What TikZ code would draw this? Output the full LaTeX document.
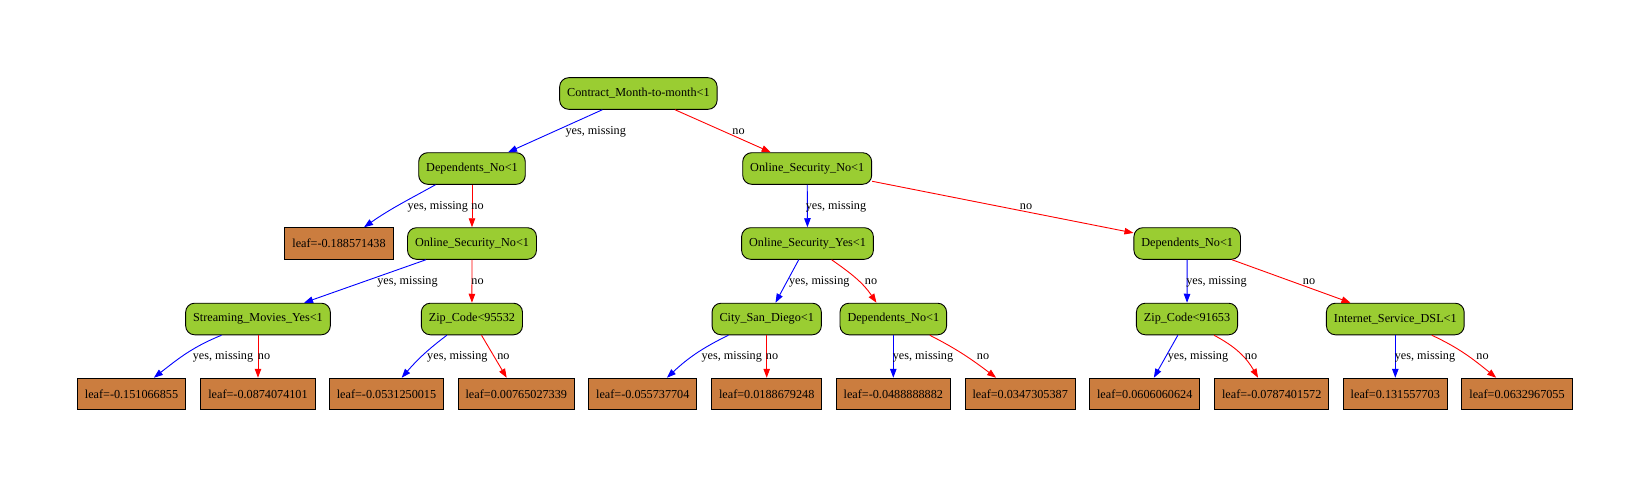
\documentclass[tikz,border=0pt]{standalone}
\usepackage{fontspec}
\setmainfont{Liberation Serif}
\usetikzlibrary{arrows.meta}
\definecolor{cgreen}{HTML}{9ACD32}
\definecolor{cleaf}{HTML}{CB7D3F}
\begin{document}
\begin{tikzpicture}[x=1pt,y=-1pt,
  font=\fontsize{12.2}{14}\selectfont,
  cond/.style={draw=black, line width=0.9pt, fill=cgreen, rounded corners=9pt,
    minimum height=31.6pt, inner xsep=7.5pt, inner ysep=0pt},
  leafbox/.style={draw=black, line width=0.9pt, fill=cleaf,
    minimum height=31.6pt, inner xsep=7.5pt, inner ysep=0pt},
  yesedge/.style={draw=blue, line width=0.9pt, -{Triangle[length=9pt,width=6.5pt]}},
  noedge/.style={draw=red, line width=0.9pt, -{Triangle[length=9pt,width=6.5pt]}},
  lbl/.style={anchor=base, inner sep=0pt}]
\useasboundingbox (0,0) rectangle (1650,487);
\fill[white] (0,0) rectangle (1650,487);
% condition nodes
\node[cond] (root) at (638.4,93.5) {Contract\_Month-to-month<1};
\node[cond] (depL) at (472,168.5) {Dependents\_No<1};
\node[cond] (osnR) at (807.2,168.5) {Online\_Security\_No<1};
\node[leafbox] (leafA) at (339,243.5) {leaf=-0.188571438};
\node[cond] (osnL) at (472,243.5) {Online\_Security\_No<1};
\node[cond] (osy) at (807.5,243.5) {Online\_Security\_Yes<1};
\node[cond] (depR) at (1187.2,243.5) {Dependents\_No<1};
\node[cond] (smy) at (258,319) {Streaming\_Movies\_Yes<1};
\node[cond] (zipA) at (471.9,319) {Zip\_Code<95532};
\node[cond] (city) at (766.7,319) {City\_San\_Diego<1};
\node[cond] (depM) at (893.3,319) {Dependents\_No<1};
\node[cond] (zipB) at (1187,319) {Zip\_Code<91653};
\node[cond] (isd) at (1395.3,319) {Internet\_Service\_DSL<1};
% leaves
\node[leafbox] (l1) at (131.5,394) {leaf=-0.151066855};
\node[leafbox] (l2) at (258,394) {leaf=-0.0874074101};
\node[leafbox] (l3) at (386.5,394) {leaf=-0.0531250015};
\node[leafbox] (l4) at (516.3,394) {leaf=0.00765027339};
\node[leafbox] (l5) at (642.8,394) {leaf=-0.055737704};
\node[leafbox] (l6) at (766.7,394) {leaf=0.0188679248};
\node[leafbox] (l7) at (893.3,394) {leaf=-0.0488888882};
\node[leafbox] (l8) at (1020.2,394) {leaf=0.0347305387};
\node[leafbox] (l9) at (1144.7,394) {leaf=0.0606060624};
\node[leafbox] (l10) at (1271.7,394) {leaf=-0.0787401572};
\node[leafbox] (l11) at (1395.3,394) {leaf=0.131557703};
\node[leafbox] (l12) at (1517,394) {leaf=0.0632967055};
% edges
\draw[yesedge] (root) -- (depL);
\draw[noedge] (root) -- (osnR);
\draw[yesedge] (depL.204.6) to[out=209,in=35] (leafA.33.5);
\draw[noedge] (depL) -- (osnL);
\draw[yesedge] (osnR) -- (osy);
\draw[noedge] (osnR) -- (depR);
\draw[yesedge] (osnL) -- (smy);
\draw[noedge] (osnL) -- (zipA);
\draw[yesedge] (osy) -- (city);
\draw[noedge] (osy.326.9) to[out=325,in=124] (depM.136.6);
\draw[yesedge] (depR) -- (zipB);
\draw[noedge] (depR) -- (isd);
\draw[yesedge] (smy.204) to[out=202,in=38] (l1.36.1);
\draw[noedge] (smy) -- (l2);
\draw[yesedge] (zipA.213.2) to[out=217,in=49] (l3.47.5);
\draw[noedge] (zipA) -- (l4);
\draw[yesedge] (city.203.6) to[out=206,in=43] (l5.34.1);
\draw[noedge] (city) -- (l6);
\draw[yesedge] (depM) -- (l7);
\draw[noedge] (depM.336.4) to[out=333,in=143] (l8.146.3);
\draw[yesedge] (zipB) -- (l9);
\draw[noedge] (zipB.329.8) to[out=332,in=120] (l10.130.5);
\draw[yesedge] (isd) -- (l11);
\draw[noedge] (isd.336.2) to[out=335,in=141] (l12.142.3);
% edge labels
\node[lbl] (t1) at (595.7,134.5) {yes, missing};
\node[lbl] (t2) at (738.5,134.5) {no};
\node[lbl] (t3) at (437.7,209.5) {yes, missing};
\node[lbl] (t4) at (477.5,209.5) {no};
\node[lbl] (t5) at (836,209.5) {yes, missing};
\node[lbl] (t6) at (1026,209.5) {no};
\node[lbl] (t7) at (407.5,284.5) {yes, missing};
\node[lbl] (t8) at (477.5,284.5) {no};
\node[lbl] (t9) at (819.3,284.5) {yes, missing};
\node[lbl] (t10) at (871,284.5) {no};
\node[lbl] (t11) at (1216.5,284.5) {yes, missing};
\node[lbl] (t12) at (1309,284.5) {no};
\node[lbl] (t13) at (223,359.5) {yes, missing};
\node[lbl] (t14) at (264,359.5) {no};
\node[lbl] (t15) at (457.4,359.5) {yes, missing};
\node[lbl] (t16) at (503.4,359.5) {no};
\node[lbl] (t17) at (731.7,359.5) {yes, missing};
\node[lbl] (t18) at (772,359.5) {no};
\node[lbl] (t19) at (923,359.5) {yes, missing};
\node[lbl] (t20) at (983,359.5) {no};
\node[lbl] (t21) at (1198,359.5) {yes, missing};
\node[lbl] (t22) at (1251,359.5) {no};
\node[lbl] (t23) at (1425,359.5) {yes, missing};
\node[lbl] (t24) at (1482.5,359.5) {no};
\end{tikzpicture}
\end{document}
